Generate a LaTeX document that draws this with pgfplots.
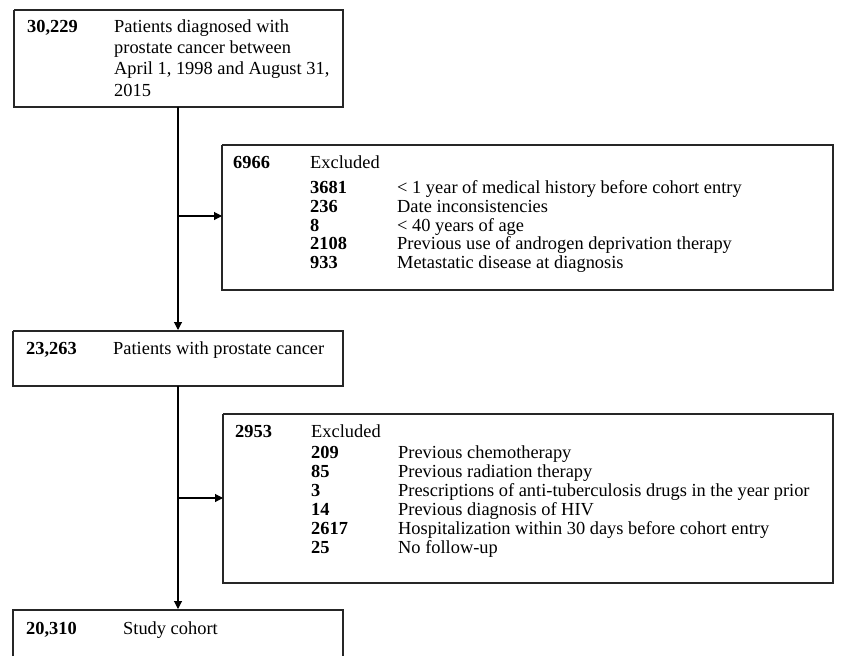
\documentclass[border=0pt]{standalone}
\usepackage{fontspec}
\setmainfont{Liberation Serif}
\usepackage{pgfplots}
\pgfplotsset{compat=1.18}
\usetikzlibrary{arrows.meta}
\newcommand{\bigf}{\fontsize{18.4bp}{21bp}\selectfont}
\newcommand{\smf}{\fontsize{18.4bp}{19bp}\selectfont}
\begin{document}
\begin{tikzpicture}
\begin{axis}[
  width=844bp, height=656bp, scale only axis,
  xmin=0, xmax=844, ymin=0, ymax=656, y dir=reverse,
  hide axis, clip=false,
]
\path (axis cs:0,0) rectangle (axis cs:844,656);
% boxes
\addplot[black!85, line width=1.1bp, mark=none] coordinates {(14,10) (343,10) (343,107) (14,107) (14,10)};
\addplot[black!85, line width=1.1bp, mark=none] coordinates {(222,145) (833,145) (833,290) (222,290) (222,145)};
\addplot[black!85, line width=1.1bp, mark=none] coordinates {(13,331) (343,331) (343,386) (13,386) (13,331)};
\addplot[black!85, line width=1.1bp, mark=none] coordinates {(223,414) (833,414) (833,583) (223,583) (223,414)};
\addplot[black!85, line width=1.1bp, mark=none] coordinates {(13,656) (13,610) (343,610) (343,656)};
% connectors
\addplot[black, line width=1.1bp, mark=none, -{Triangle[length=8bp,width=8bp]}] coordinates {(178,107) (178,330)};
\addplot[black, line width=1.1bp, mark=none, -{Triangle[length=8bp,width=8bp]}] coordinates {(178,386) (178,609)};
\addplot[black, line width=1.1bp, mark=none, -{Triangle[length=8bp,width=8bp]}] coordinates {(178,216) (222,216)};
\addplot[black, line width=1.1bp, mark=none, -{Triangle[length=8bp,width=8bp]}] coordinates {(178,498) (223,498)};
% box 1
\node[anchor=base west, inner sep=0] at (axis cs:27,33) {\bigf\textbf{30,229}};
\node[anchor=base west, inner sep=0] at (axis cs:114,33) {\bigf Patients diagnosed with};
\node[anchor=base west, inner sep=0] at (axis cs:114,54) {\bigf prostate cancer between};
\node[anchor=base west, inner sep=0] at (axis cs:114,75) {\bigf April 1, 1998 and August 31,};
\node[anchor=base west, inner sep=0] at (axis cs:114,96) {\bigf 2015};
% box A
\node[anchor=base west, inner sep=0] at (axis cs:233,168) {\smf\textbf{6966}};
\node[anchor=base west, inner sep=0] at (axis cs:310,168) {\smf Excluded};
\node[anchor=base west, inner sep=0] at (axis cs:310,193) {\smf\textbf{3681}};
\node[anchor=base west, inner sep=0] at (axis cs:397,193) {\smf < 1 year of medical history before cohort entry};
\node[anchor=base west, inner sep=0] at (axis cs:310,212) {\smf\textbf{236}};
\node[anchor=base west, inner sep=0] at (axis cs:397,212) {\smf Date inconsistencies};
\node[anchor=base west, inner sep=0] at (axis cs:310,231) {\smf\textbf{8}};
\node[anchor=base west, inner sep=0] at (axis cs:397,231) {\smf < 40 years of age};
\node[anchor=base west, inner sep=0] at (axis cs:310,249) {\smf\textbf{2108}};
\node[anchor=base west, inner sep=0] at (axis cs:397,249) {\smf Previous use of androgen deprivation therapy};
\node[anchor=base west, inner sep=0] at (axis cs:310,268) {\smf\textbf{933}};
\node[anchor=base west, inner sep=0] at (axis cs:397,268) {\smf Metastatic disease at diagnosis};
% box 2
\node[anchor=base west, inner sep=0] at (axis cs:26,354) {\bigf\textbf{23,263}};
\node[anchor=base west, inner sep=0] at (axis cs:113,354) {\bigf Patients with prostate cancer};
% box B
\node[anchor=base west, inner sep=0] at (axis cs:235,437) {\smf\textbf{2953}};
\node[anchor=base west, inner sep=0] at (axis cs:311,437) {\smf Excluded};
\node[anchor=base west, inner sep=0] at (axis cs:311,458) {\smf\textbf{209}};
\node[anchor=base west, inner sep=0] at (axis cs:398,458) {\smf Previous chemotherapy};
\node[anchor=base west, inner sep=0] at (axis cs:311,477) {\smf\textbf{85}};
\node[anchor=base west, inner sep=0] at (axis cs:398,477) {\smf Previous radiation therapy};
\node[anchor=base west, inner sep=0] at (axis cs:311,496) {\smf\textbf{3}};
\node[anchor=base west, inner sep=0] at (axis cs:398,496) {\smf Prescriptions of anti-tuberculosis drugs in the year prior};
\node[anchor=base west, inner sep=0] at (axis cs:311,515) {\smf\textbf{14}};
\node[anchor=base west, inner sep=0] at (axis cs:398,515) {\smf Previous diagnosis of HIV};
\node[anchor=base west, inner sep=0] at (axis cs:311,534) {\smf\textbf{2617}};
\node[anchor=base west, inner sep=0] at (axis cs:398,534) {\smf Hospitalization within 30 days before cohort entry};
\node[anchor=base west, inner sep=0] at (axis cs:311,553) {\smf\textbf{25}};
\node[anchor=base west, inner sep=0] at (axis cs:398,553) {\smf No follow-up};
% box 3
\node[anchor=base west, inner sep=0] at (axis cs:26,634) {\bigf\textbf{20,310}};
\node[anchor=base west, inner sep=0] at (axis cs:123,634) {\bigf Study cohort};
\end{axis}
\end{tikzpicture}
\end{document}
